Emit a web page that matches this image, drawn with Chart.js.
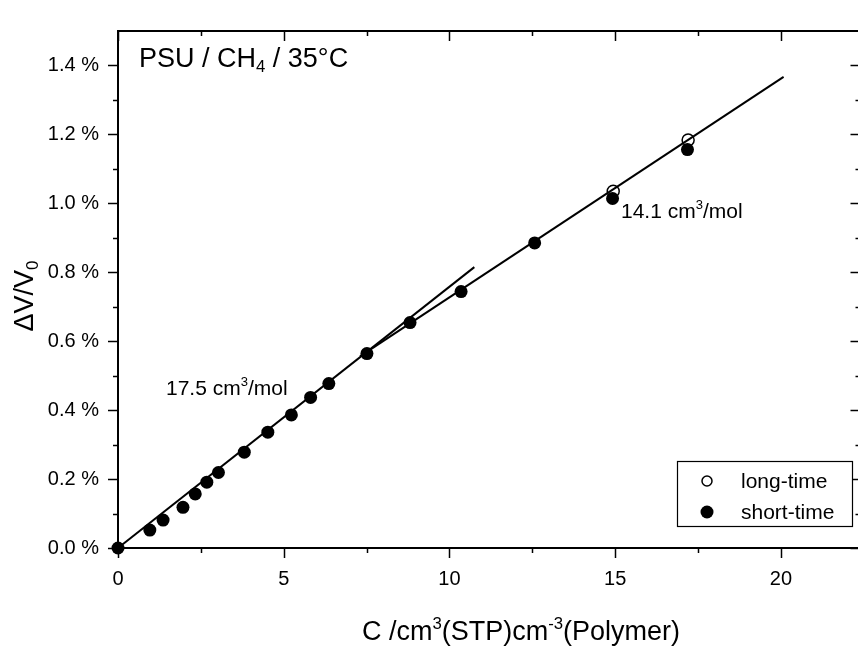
<!DOCTYPE html>
<html>
<head>
<meta charset="utf-8">
<script src="https://cdn.jsdelivr.net/npm/chart.js@4"></script>
<style>
  html, body { margin: 0; padding: 0; background: #fff; overflow: hidden; }
  #wrap { position: relative; width: 868px; height: 647px; }
</style>
</head>
<body>
<div id="wrap"><canvas id="c"></canvas></div>
<script>
// Gas concentration C [cm3(STP)/cm3 polymer] and relative volume dilation dV/V0 [%]
const shortTimeC  = [0, 0.96, 1.36, 1.96, 2.33, 2.68, 3.03, 3.81, 4.52, 5.23, 5.81, 6.36, 7.51, 8.81, 10.35, 12.57, 14.92, 17.18];
const shortTimeDV = [0, 0.052, 0.081, 0.118, 0.157, 0.191, 0.219, 0.278, 0.336, 0.386, 0.437, 0.477, 0.564, 0.654, 0.744, 0.885, 1.014, 1.156];
const longTimeC   = [14.94, 17.20];
const longTimeDV  = [1.035, 1.184];

// Linear fits: low-concentration branch (17.5 cm3/mol) and high-concentration branch (14.1 cm3/mol)
const fitLowC   = [0, 10.75];
const fitLowDV  = [0, 0.815];
const fitHighC  = [7.3, 20.08];
const fitHighDV = [0.556, 1.367];

// Axis ticks
const xTickValues = [0, 5, 10, 15, 20];
const xTickLabels = ['0', '5', '10', '15', '20'];
const xMinorValues = [2.5, 7.5, 12.5, 17.5];
const yTickValues = [0, 0.2, 0.4, 0.6, 0.8, 1.0, 1.2, 1.4];
const yTickLabels = ['0.0 %', '0.2 %', '0.4 %', '0.6 %', '0.8 %', '1.0 %', '1.2 %', '1.4 %'];
const yMinorValues = [0.1, 0.3, 0.5, 0.7, 0.9, 1.1, 1.3];

const seriesNames = ['short-time', 'long-time'];

const FONT = '"Liberation Sans", Arial, Helvetica, sans-serif';

function pts(xs, ys) { return xs.map((v, i) => ({ x: v, y: ys[i] })); }

// Text with sub/superscript runs
function drawRich(ctx, runs, x, y, size, align) {
  const parts = runs.map(r => {
    const s = r.k ? size * 0.62 : size;
    ctx.font = s + 'px ' + FONT;
    return { t: r.t, k: r.k, s: s, w: ctx.measureText(r.t).width };
  });
  const total = parts.reduce((a, p) => a + p.w, 0);
  let cx = align === 'center' ? x - total / 2 : x;
  ctx.textAlign = 'left';
  ctx.textBaseline = 'alphabetic';
  for (const p of parts) {
    ctx.font = p.s + 'px ' + FONT;
    const dy = p.k === 'sub' ? size * 0.2 : (p.k === 'sup' ? -size * 0.42 : 0);
    ctx.fillText(p.t, cx, y + dy);
    cx += p.w;
  }
}

function seg(ctx, x1, y1, x2, y2) {
  ctx.beginPath(); ctx.moveTo(x1, y1); ctx.lineTo(x2, y2); ctx.stroke();
}

const framePlugin = {
  id: 'frameAndNotes',
  beforeDatasetsDraw(chart) {
    const { ctx, chartArea: a, scales: { x, y } } = chart;
    ctx.save();
    ctx.strokeStyle = '#000';
    ctx.lineWidth = 2;
    ctx.strokeRect(a.left, a.top, a.right - a.left, a.bottom - a.top);
    ctx.lineWidth = 1.5;
    const xt = xTickValues.map(v => [v, 10]).concat(xMinorValues.map(v => [v, 5]));
    for (const [v, len] of xt) {
      const px = Math.round(x.getPixelForValue(v)) + 0.5;
      seg(ctx, px, a.bottom, px, a.bottom + len);   // bottom, outward
      seg(ctx, px, a.top, px, a.top + len);         // top, inward
    }
    const yt = yTickValues.map(v => [v, 10]).concat(yMinorValues.map(v => [v, 5]));
    for (const [v, len] of yt) {
      const py = Math.round(y.getPixelForValue(v)) + 0.5;
      seg(ctx, a.left - len, py, a.left, py);       // left, outward
      seg(ctx, a.right - len, py, a.right, py);     // right, inward
    }
    ctx.restore();
  },
  afterDraw(chart) {
    const { ctx } = chart;
    ctx.save();
    ctx.fillStyle = '#000';

    // Annotations
    drawRich(ctx, [{ t: 'PSU / CH' }, { t: '4', k: 'sub' }, { t: ' / 35°C' }], 139, 67, 27, 'left');
    drawRich(ctx, [{ t: '17.5 cm' }, { t: '3', k: 'sup' }, { t: '/mol' }], 166, 395, 21, 'left');
    drawRich(ctx, [{ t: '14.1 cm' }, { t: '3', k: 'sup' }, { t: '/mol' }], 621, 218, 21, 'left');

    // Axis titles
    drawRich(ctx, [{ t: 'C /cm' }, { t: '3', k: 'sup' }, { t: '(STP)cm' }, { t: '-3', k: 'sup' }, { t: '(Polymer)' }], 521, 640, 27, 'center');
    ctx.save();
    ctx.translate(33, 296);
    ctx.rotate(-Math.PI / 2);
    drawRich(ctx, [{ t: '\u0394V/V' }, { t: '0', k: 'sub' }], 0, 0, 27, 'center');
    ctx.restore();

    // Legend box
    const bx = 677, by = 461, bw = 175, bh = 65;
    ctx.fillStyle = '#fff';
    ctx.fillRect(bx, by, bw, bh);
    ctx.strokeStyle = '#000';
    ctx.lineWidth = 1.2;
    ctx.strokeRect(bx + 0.5, by + 0.5, bw, bh);
    const order = [1, 0];
    const rows = [481, 512];
    order.forEach((di, r) => {
      const ds = chart.data.datasets[di];
      const cy = rows[r];
      ctx.beginPath();
      ctx.arc(707, cy, di === 1 ? 5 : 6.5, 0, Math.PI * 2);
      if (di === 1) {
        ctx.lineWidth = 1.5; ctx.strokeStyle = ds.borderColor; ctx.stroke();
      } else {
        ctx.fillStyle = ds.backgroundColor; ctx.fill();
      }
      ctx.fillStyle = '#000';
      ctx.font = '21px ' + FONT;
      ctx.textAlign = 'left';
      ctx.textBaseline = 'middle';
      ctx.fillText(ds.label, 741, cy + 1);
    });
    ctx.restore();
  }
};

new Chart(document.getElementById('c'), {
  type: 'scatter',
  data: {
    datasets: [
      {
        label: seriesNames[0],
        data: pts(shortTimeC, shortTimeDV),
        pointRadius: 6.5,
        pointHoverRadius: 6.5,
        backgroundColor: '#000',
        borderColor: '#000',
        borderWidth: 0,
        clip: false
      },
      {
        label: seriesNames[1],
        data: pts(longTimeC, longTimeDV),
        pointRadius: 6,
        pointHoverRadius: 6,
        backgroundColor: 'rgba(0,0,0,0)',
        borderColor: '#000',
        borderWidth: 1.5,
        clip: false
      },
      {
        label: 'fit low',
        data: pts(fitLowC, fitLowDV),
        showLine: true,
        pointRadius: 0,
        borderColor: '#000',
        borderWidth: 2,
        clip: false
      },
      {
        label: 'fit high',
        data: pts(fitHighC, fitHighDV),
        showLine: true,
        pointRadius: 0,
        borderColor: '#000',
        borderWidth: 2,
        clip: false
      }
    ]
  },
  options: {
    responsive: true,
    maintainAspectRatio: false,
    animation: false,
    devicePixelRatio: 1,
    events: [],
    layout: { padding: { left: 0, top: 15, right: 4, bottom: 0 } },
    plugins: { legend: { display: false }, tooltip: { enabled: false } },
    scales: {
      x: {
        type: 'linear',
        min: 0,
        max: 22.4,
        grid: { display: false, drawTicks: false },
        border: { display: false },
        afterBuildTicks(scale) { scale.ticks = xTickValues.map(v => ({ value: v })); },
        afterFit(scale) { scale.height = 99; },
        ticks: {
          color: '#000',
          font: { family: FONT, size: 20 },
          padding: 19,
          maxRotation: 0,
          callback: (v, i) => xTickLabels[i]
        }
      },
      y: {
        type: 'linear',
        min: 0,
        max: 1.5,
        grid: { display: false, drawTicks: false },
        border: { display: false },
        afterBuildTicks(scale) { scale.ticks = yTickValues.map(v => ({ value: v })); },
        afterFit(scale) { scale.width = 118; },
        ticks: {
          color: '#000',
          font: { family: FONT, size: 20 },
          padding: 19,
          callback: (v, i) => yTickLabels[i]
        }
      }
    }
  },
  plugins: [framePlugin]
});
</script>
</body>
</html>
